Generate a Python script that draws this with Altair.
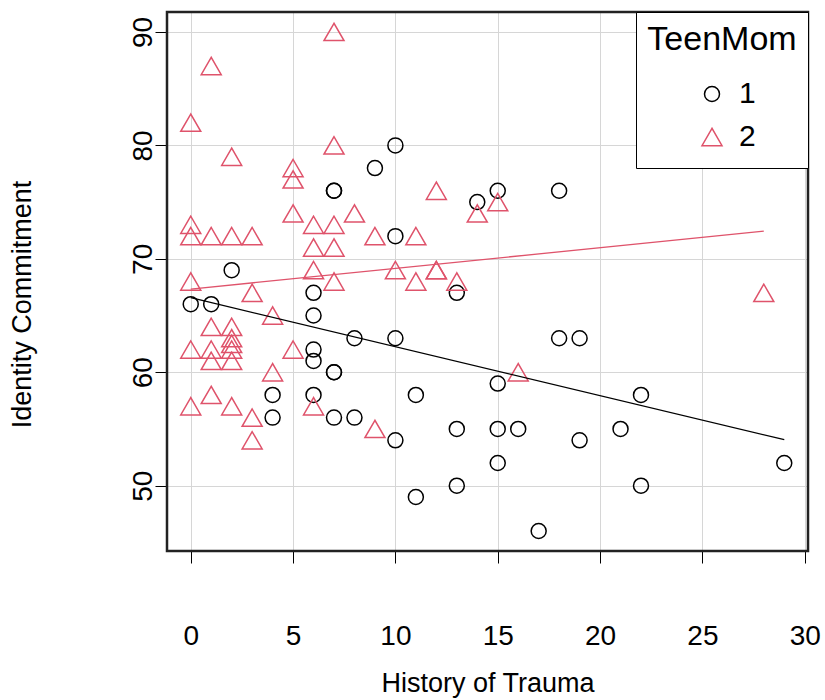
import altair as alt
import pandas as pd

# Group 1 (TeenMom = 1): circles
trauma_1 = [2, 0, 1, 6, 6, 8, 6, 6, 7, 7, 4, 4, 6, 7, 8,
            9, 7, 7, 10, 14, 15, 18, 10, 13, 10, 18, 19,
            15, 11, 10, 13, 15, 16, 19, 15, 13, 11, 17,
            22, 21, 22, 29]
identity_1 = [69, 66, 66, 67, 65, 63, 62, 61, 60, 60, 58, 56, 58, 56, 56,
              78, 76, 76, 80, 75, 76, 76, 72, 67, 63, 63, 63,
              59, 58, 54, 55, 55, 55, 54, 52, 50, 49, 46,
              58, 55, 50, 52]

# Group 2 (TeenMom = 2): triangles
trauma_2 = [7, 1, 0, 2, 7, 5, 5, 12, 15, 14, 5, 8, 6, 7, 0, 0, 1, 2, 3, 9, 11,
            6, 7, 6, 10, 12, 12, 7, 0, 11, 13, 3, 28, 4, 1, 2, 2, 0, 1, 2, 2,
            5, 1, 2, 4, 16, 0, 1, 2, 6, 3, 3, 9]
identity_2 = [90, 87, 82, 79, 80, 78, 77, 76, 75, 74, 74, 74, 73, 73, 73, 72, 72, 72, 72, 72, 72,
              71, 71, 69, 69, 69, 69, 68, 68, 68, 68, 67, 67, 65, 64, 64, 63, 62, 62, 62.5, 62,
              62, 61, 61, 60, 60, 57, 58, 57, 57, 56, 54, 55]

groups = ["1", "2"]
group_colors = ["black", "#DF536B"]
group_shapes = ["circle", "triangle-up"]
group_sizes = [225, 400]
x_ticks = [0, 5, 10, 15, 20, 25, 30]
y_ticks = [50, 60, 70, 80, 90]

df = pd.DataFrame({
    "trauma": trauma_1 + trauma_2,
    "identity": identity_1 + identity_2,
    "TeenMom": ["1"] * len(trauma_1) + ["2"] * len(trauma_2),
})

FONT = "Liberation Sans"
W, H = 641, 539

xscale = alt.Scale(domain=[-1.16, 30.16], nice=False, zero=False)
yscale = alt.Scale(domain=[44.24, 91.76], nice=False, zero=False)

x_axis = alt.Axis(values=x_ticks, title="History of Trauma", labelFontSize=28,
                  titleFontSize=27, tickSize=12, labelPadding=59, domain=False,
                  grid=True, gridColor="#d6d6d6", tickColor="black", labelColor="black",
                  titleColor="black", titleFontWeight="normal", titleX=W / 2, titleY=132,
                  titleBaseline="middle", titleAnchor="middle", labelFlush=False,
                  labelFont=FONT, titleFont=FONT)
y_axis = alt.Axis(values=y_ticks, title="Identity Commitment", labelFontSize=28,
                  titleFontSize=27, tickSize=12, labelPadding=4, domain=False,
                  grid=True, gridColor="#d6d6d6", tickColor="black", labelColor="black",
                  titleColor="black", titleFontWeight="normal", labelAngle=270,
                  labelAlign="center", labelBaseline="alphabetic", titleAngle=270,
                  titleX=-145, titleY=292, titleBaseline="middle", titleAlign="center",
                  labelFlush=False, labelFont=FONT, titleFont=FONT)

legend = alt.Legend(title="TeenMom", orient="top-right", offset=0, titleFontSize=34,
                    titleFontWeight="normal", titleColor="black", labelFontSize=30,
                    labelColor="black", symbolSize=260, symbolStrokeWidth=1.5,
                    strokeColor="black", fillColor="white", padding=11,
                    titleAnchor="middle", symbolOffset=8, labelOffset=12,
                    clipHeight=40, rowPadding=3, titlePadding=17,
                    labelFont=FONT, titleFont=FONT)

points = alt.Chart(df).mark_point(filled=False, strokeWidth=1.5, opacity=1).encode(
    x=alt.X("trauma:Q", scale=xscale, axis=x_axis),
    y=alt.Y("identity:Q", scale=yscale, axis=y_axis),
    color=alt.Color("TeenMom:N", scale=alt.Scale(domain=groups, range=group_colors), legend=legend),
    shape=alt.Shape("TeenMom:N", scale=alt.Scale(domain=groups, range=group_shapes), legend=legend),
    size=alt.Size("TeenMom:N", scale=alt.Scale(domain=groups, range=group_sizes), legend=None),
)

lines = []
for g, col in zip(groups, group_colors):
    lines.append(
        alt.Chart(df).transform_filter(alt.datum.TeenMom == g)
        .transform_regression("trauma", "identity")
        .mark_line(color=col, strokeWidth=1.3)
        .encode(x=alt.X("trauma:Q", scale=xscale), y=alt.Y("identity:Q", scale=yscale))
    )

# plot frame (box around the plotting region)
frame = alt.Chart(pd.DataFrame({"k": [0]})).mark_rect(
    fill=None, stroke="#222222", strokeWidth=2.5
).encode(x=alt.value(0), x2=alt.value(W), y=alt.value(0), y2=alt.value(H))

chart = alt.layer(points, *lines, frame).properties(
    width=W, height=H,
    autosize=alt.AutoSizeParams(type="none"),
    padding={"left": 167, "top": 12, "right": 17, "bottom": 149},
    background="white",
).configure(font=FONT).configure_view(stroke=None)

chart.save("out.html", embed_options={"renderer": "svg", "actions": False})
